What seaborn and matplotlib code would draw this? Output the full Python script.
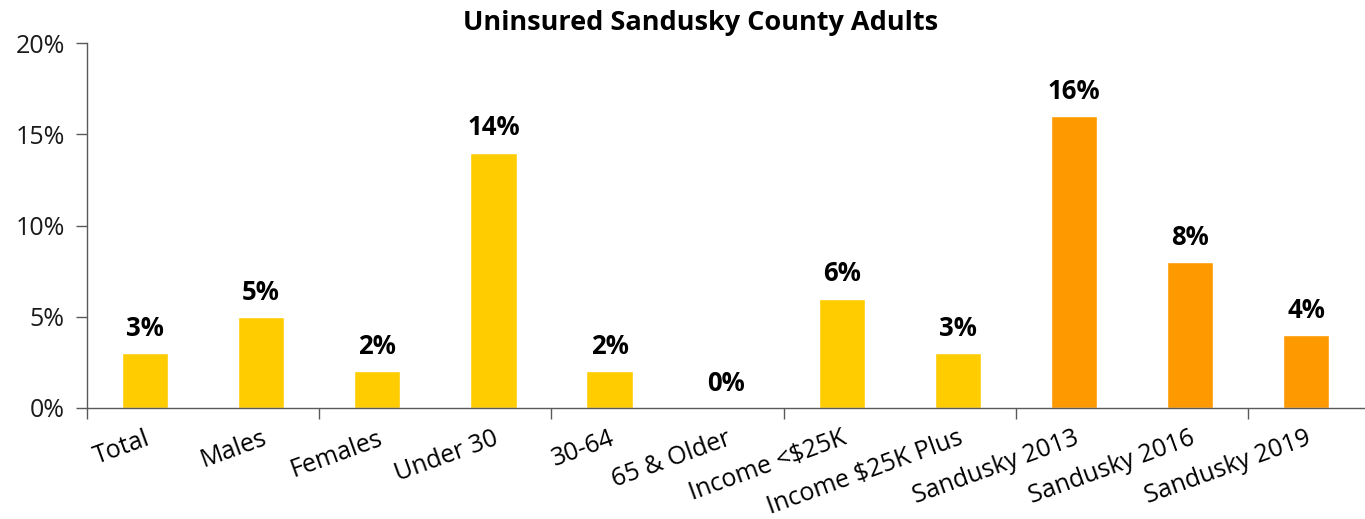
import matplotlib
matplotlib.use("Agg")
import matplotlib.pyplot as plt
import matplotlib.ticker as mticker
import seaborn as sns
import pandas as pd
import numpy as np

categories = ["Total", "Males", "Females", "Under 30", "30-64", "65 & Older",
              "Income <$25K", "Income $25K Plus", "Sandusky 2013",
              "Sandusky 2016", "Sandusky 2019"]
values = [3, 5, 2, 14, 2, 0, 6, 3, 16, 8, 4]
groups = ["current"] * 8 + ["trend"] * 3
palette = {"current": "#FFCC00", "trend": "#FF9900"}
y_ticks = [0, 5, 10, 15, 20]

sns.set_theme(style="white")
plt.rcParams["font.family"] = ["Open Sans", "DejaVu Sans"]
plt.rcParams["text.color"] = "black"
plt.rcParams["xtick.labelcolor"] = "black"
plt.rcParams["ytick.labelcolor"] = "black"

df = pd.DataFrame({"cat": categories, "val": values, "grp": groups})

fig = plt.figure(figsize=(13.65, 5.19), dpi=100)
ax = fig.add_axes([0.0637, 0.2139, 0.9358, 0.917 - 0.2139])

sns.barplot(data=df, x="cat", y="val", hue="grp", palette=palette,
            dodge=False, width=0.4, legend=False, ax=ax, saturation=1)

ax.set_xlim(-0.5, len(categories) - 0.5)
ax.set_ylim(0, 20)
ax.set_yticks(y_ticks)
ax.yaxis.set_major_formatter(mticker.FuncFormatter(lambda v, p: f"{int(v)}%"))
ax.tick_params(axis="y", labelsize=18, length=8, width=1, color="#595959",
               left=True, direction="out", pad=8, labelcolor="#1a1a1a")

ax.set_xticks(range(len(categories)))
ax.set_xticklabels(categories, rotation=20, ha="right", rotation_mode="anchor",
                   fontsize=18)
ax.tick_params(axis="x", which="major", length=0, pad=13, labelcolor="black")
ax.set_xticks(np.arange(-0.5, len(categories) - 0.4, 2), minor=True)
ax.tick_params(axis="x", which="minor", length=8, width=1, color="#595959",
               bottom=True, direction="out")

for s in ["top", "right"]:
    ax.spines[s].set_visible(False)
for s in ["left", "bottom"]:
    ax.spines[s].set_color("#595959")
    ax.spines[s].set_linewidth(1)

for i, v in enumerate(values):
    ax.annotate(f"{v}%", (i, v), xytext=(0, 8), textcoords="offset points",
                ha="center", va="bottom", fontsize=18.5, fontweight="bold",
                color="black")

ax.set_xlabel("")
ax.set_ylabel("")
fig.text(0.5135, 0.955, "Uninsured Sandusky County Adults", ha="center",
         va="center", fontsize=19.5, fontweight="bold", color="black")

fig.savefig("out.png", dpi=100)
